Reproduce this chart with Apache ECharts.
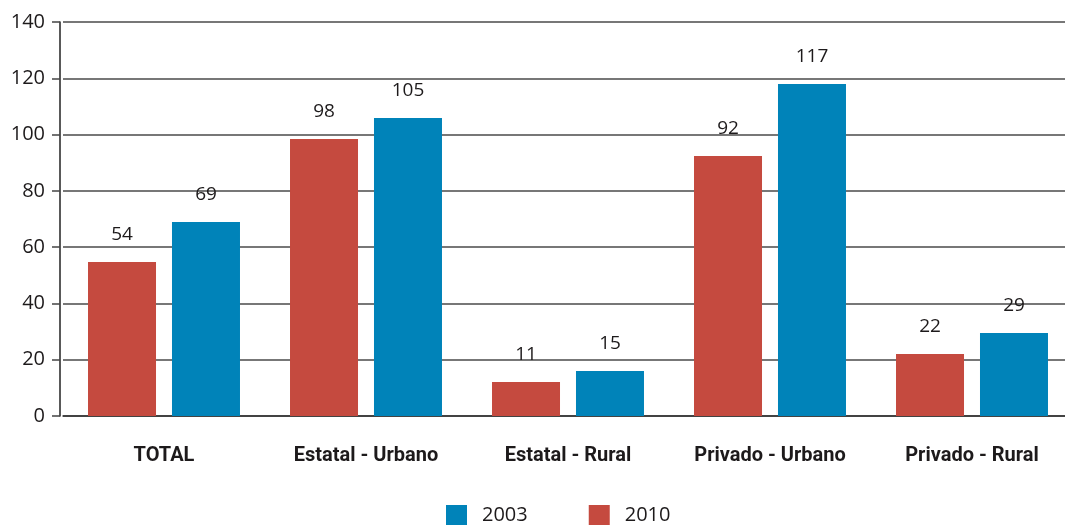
<!DOCTYPE html>
<html>
<head>
<meta charset="utf-8">
<script src="https://cdn.jsdelivr.net/npm/echarts@6/dist/echarts.min.js"></script>
<style>
  html, body { margin: 0; padding: 0; background: #fff; }
  #chart { width: 1065px; height: 525px; }
</style>
</head>
<body>
<div id="chart"></div>
<script>
// categories and values
const categories = ["TOTAL", "Estatal - Urbano", "Estatal - Rural", "Privado - Urbano", "Privado - Rural"];
const values2010 = [54.7, 98.4, 12.1, 92.4, 22.0];
const values2003 = [68.9, 105.9, 16.0, 118.0, 29.5];
// printed labels above bars
const labels2010 = ["54", "98", "11", "92", "22"];
const labels2003 = ["69", "105", "15", "117", "29"];
const yTicks = [0, 20, 40, 60, 80, 100, 120, 140];

const RED = "#C54A3F";
const BLUE = "#0083B9";
const TEXT = "#1d1a1b";
const FONT = "'Open Sans', 'Noto Sans', sans-serif";

const chart = echarts.init(document.getElementById("chart"));

const barLabel = (labels) => ({
  show: true,
  position: "top",
  distance: 18,
  color: TEXT,
  fontFamily: FONT,
  fontSize: 19,
  formatter: (p) => labels[p.dataIndex],
});

const option = {
  animation: false,
  textStyle: { fontFamily: FONT, color: TEXT },
  grid: { left: 63, width: 1010, top: 22, bottom: 109, outerBoundsMode: "none", containLabel: false },
  legend: {
    data: ["2003", "2010"],
    bottom: -6,
    left: 441,
    itemWidth: 21,
    itemHeight: 21,
    itemGap: 61,
    icon: "rect",
    textStyle: { fontFamily: FONT, fontSize: 20, color: TEXT, padding: [0, 0, 0, 10] },
  },
  xAxis: {
    type: "category",
    data: categories,
    axisLine: { lineStyle: { color: "#333", width: 1.5 } },
    axisTick: { show: false },
    axisLabel: {
      color: TEXT,
      fontFamily: "Roboto, sans-serif",
      fontWeight: "bold",
      fontSize: 20,
      margin: 30,
    },
  },
  yAxis: {
    type: "value",
    min: yTicks[0],
    max: yTicks[yTicks.length - 1],
    interval: 20,
    offset: 3,
    axisLine: { show: true, lineStyle: { color: "#222", width: 1.5 } },
    axisTick: { show: true, length: 8, lineStyle: { color: "#444", width: 1.5 } },
    axisLabel: { color: TEXT, fontFamily: FONT, fontSize: 20, margin: 15 },
    splitLine: { lineStyle: { color: "#4a4a4a", width: 1.5 } },
  },
  series: [
    {
      name: "2010",
      type: "bar",
      data: values2010,
      barWidth: 68,
      barGap: "23.5%",
      itemStyle: { color: RED },
      label: barLabel(labels2010),
    },
    {
      name: "2003",
      type: "bar",
      data: values2003,
      barWidth: 68,
      barGap: "23.5%",
      itemStyle: { color: BLUE },
      label: barLabel(labels2003),
    },
  ],
};

chart.setOption(option);
</script>
</body>
</html>
